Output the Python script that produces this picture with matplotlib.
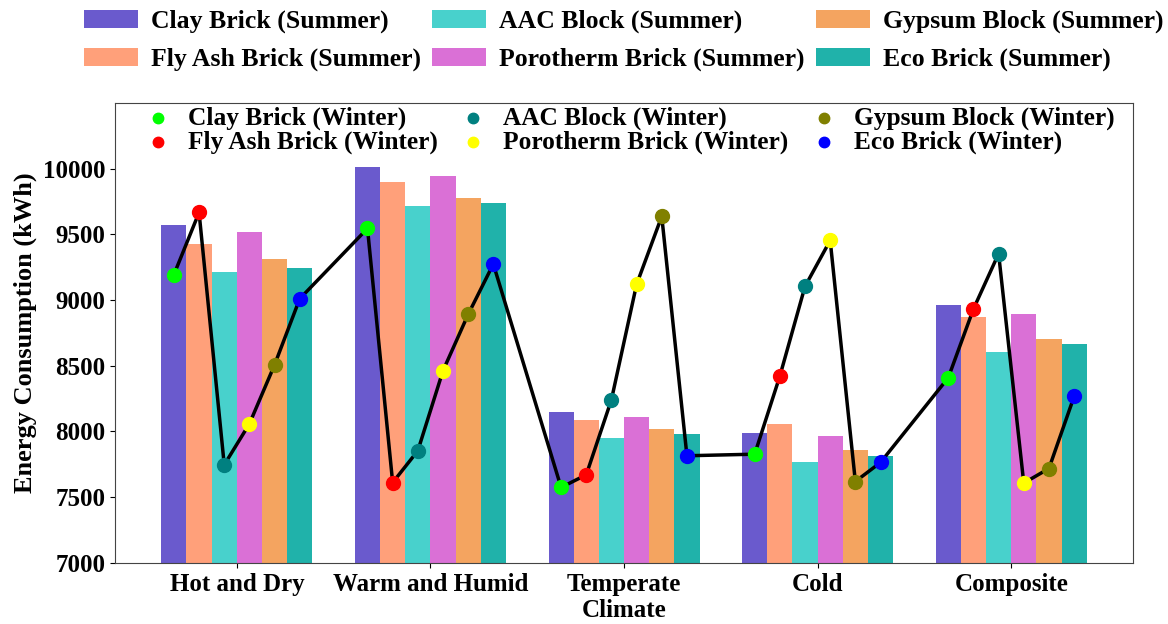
import matplotlib.pyplot as plt
import numpy as np

plt.rcParams['font.family'] = ['Liberation Serif', 'DejaVu Serif']
plt.rcParams['font.weight'] = 'bold'

climates = ['Hot and Dry', 'Warm and Humid', 'Temperate\nClimate', 'Cold', 'Composite']
materials = ['Clay Brick', 'Fly Ash Brick', 'AAC Block', 'Porotherm Brick', 'Gypsum Block', 'Eco Brick']

# summer consumption per material, one value per climate (kWh)
clay_summer = [9571, 10010, 8148, 7987, 8962]
flyash_summer = [9426, 9898, 8089, 8058, 8868]
aac_summer = [9210, 9713, 7947, 7767, 8604]
poro_summer = [9518, 9947, 8109, 7962, 8896]
gypsum_summer = [9315, 9777, 8018, 7858, 8706]
eco_summer = [9246, 9736, 7980, 7815, 8665]

# winter consumption per material (kWh)
clay_winter = [9193, 9545, 7574, 7827, 8409]
flyash_winter = [9667, 7611, 7670, 8421, 8932]
aac_winter = [7746, 7853, 8241, 9104, 9353]
poro_winter = [8058, 8462, 9119, 9454, 7607]
gypsum_winter = [8507, 8891, 9637, 7619, 7718]
eco_winter = [9010, 9274, 7815, 7764, 8266]

summer = [clay_summer, flyash_summer, aac_summer, poro_summer, gypsum_summer, eco_summer]
winter = [clay_winter, flyash_winter, aac_winter, poro_winter, gypsum_winter, eco_winter]

bar_colors = ['slateblue', 'lightsalmon', 'mediumturquoise', 'orchid', 'sandybrown', 'lightseagreen']
dot_colors = ['lime', 'red', 'teal', 'yellow', 'olive', 'blue']

x = np.arange(len(climates))
w = 0.13

fig, ax = plt.subplots(figsize=(11.68, 6.24), dpi=100)
fig.subplots_adjust(left=0.0985, right=0.970, bottom=0.098, top=0.835)

bars = []
for j, m in enumerate(materials):
    b = ax.bar(x + (j - 2.5) * w, summer[j], w, color=bar_colors[j], label=m + ' (Summer)')
    bars.append(b)

# winter values joined in order: climate by climate, material by material
xs = (x[:, None] + (np.arange(6)[None, :] - 2.5) * w).ravel()
ys = np.array(winter).T.ravel()
ax.plot(xs, ys, color='black', lw=2.5, zorder=3)

dots = []
for j, m in enumerate(materials):
    d = ax.scatter(x + (j - 2.5) * w, winter[j], s=100, color=dot_colors[j], zorder=4,
                   label=m + ' (Winter)')
    dots.append(d)

ax.set_ylim(7000, 10500)
ax.set_yticks(np.arange(7000, 10001, 500))
ax.set_xticks(x)
ax.set_xticklabels(climates)
ax.tick_params(labelsize=18)
for s in ax.spines.values():
    s.set_color('#444444')
ax.set_ylabel('Energy Consumption (kWh)', fontsize=19, fontweight='bold')

leg1 = ax.legend(handles=bars, ncol=3, loc='upper center', bbox_to_anchor=(0.534, 0.997),
                 bbox_transform=fig.transFigure, frameon=False, fontsize=18.5,
                 handlelength=2.1, handleheight=0.75, columnspacing=0.45,
                 labelspacing=0.55, handletextpad=0.5, borderaxespad=0.0, borderpad=0.3)
ax.add_artist(leg1)
ax.legend(handles=dots, ncol=3, loc='upper center', bbox_to_anchor=(0.506, 1.0),
          frameon=False, fontsize=18.3, labelspacing=0.02, columnspacing=0.9,
          handlelength=1.0, handletextpad=0.68, borderaxespad=0.0, borderpad=0.15,
          markerscale=0.75)

plt.savefig('out.png')
